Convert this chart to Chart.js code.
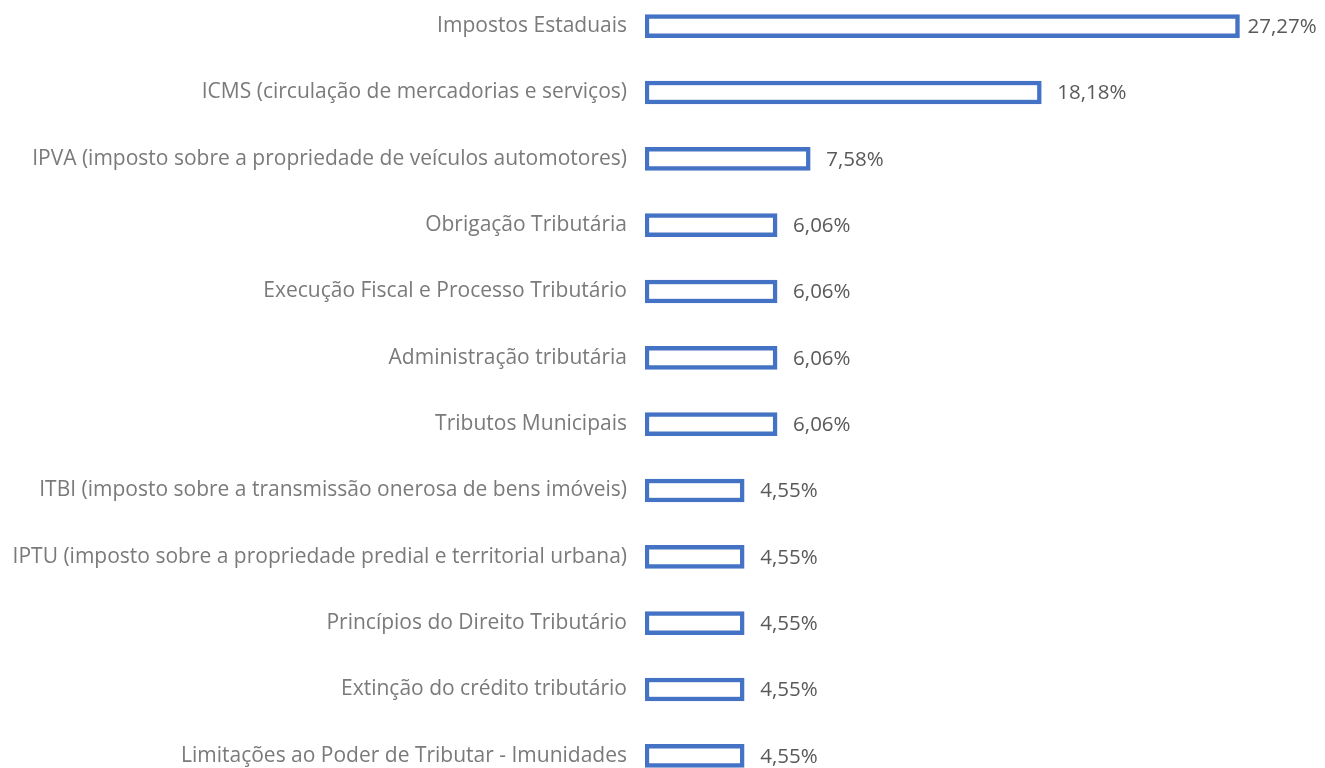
<!DOCTYPE html>
<html>
<head>
<meta charset="utf-8">
<script src="https://cdn.jsdelivr.net/npm/chart.js@4/dist/chart.umd.min.js"></script>
<style>
    html, body { margin: 0; padding: 0; background: #fff; overflow: hidden; }
    #wrap { position: absolute; left: 0; top: -7px; width: 1325px; height: 796px; }
</style>
</head>
<body>
<div id="wrap"><canvas id="chart"></canvas></div>
<script>
// categories, top to bottom
const categories = [
    'Impostos Estaduais',
    'ICMS (circulação de mercadorias e serviços)',
    'IPVA (imposto sobre a propriedade de veículos automotores)',
    'Obrigação Tributária',
    'Execução Fiscal e Processo Tributário',
    'Administração tributária',
    'Tributos Municipais',
    'ITBI (imposto sobre a transmissão onerosa de bens imóveis)',
    'IPTU (imposto sobre a propriedade predial e territorial urbana)',
    'Princípios do Direito Tributário',
    'Extinção do crédito tributário',
    'Limitações ao Poder de Tributar - Imunidades'
];
const percentages = [27.27, 18.18, 7.58, 6.06, 6.06, 6.06, 6.06, 4.55, 4.55, 4.55, 4.55, 4.55];

const FONT = '"Open Sans"';
const FONT_SIZE = 21;

// value labels after each bar
const valueLabels = {
    id: 'valueLabels',
    afterDatasetsDraw(chart) {
        const ctx = chart.ctx;
        const meta = chart.getDatasetMeta(0);
        ctx.save();
        ctx.font = '20.5px ' + FONT;
        ctx.fillStyle = '#595959';
        ctx.textBaseline = 'middle';
        meta.data.forEach((bar, i) => {
            const txt = percentages[i].toFixed(2).replace('.', ',') + '%';
            const w = ctx.measureText(txt).width;
            let x = bar.x + 16;
            if (x + w > chart.width - 4) x = bar.x + 8;
            ctx.fillText(txt, x, bar.y + 1);
        });
        ctx.restore();
    }
};

new Chart(document.getElementById('chart'), {
    type: 'bar',
    data: {
        labels: categories,
        datasets: [{
            data: percentages,
            backgroundColor: '#ffffff',
            borderColor: '#4472C4',
            borderWidth: 4.5,
            borderSkipped: false,
            barThickness: 23
        }]
    },
    options: {
        indexAxis: 'y',
        responsive: true,
        maintainAspectRatio: false,
        animation: false,
        layout: { padding: { top: 0, bottom: 0, left: 0, right: 26 } },
        plugins: {
            legend: { display: false },
            tooltip: { enabled: false }
        },
        scales: {
            x: {
                display: false,
                min: 0,
                max: 30
            },
            y: {
                grid: { display: false, drawTicks: false },
                border: { display: false },
                ticks: {
                    color: '#7a7a7a',
                    font: { family: 'Open Sans', size: FONT_SIZE },
                    padding: 18
                },
                afterFit(scale) {
                    scale.width = 645;
                    // no extra room above/below for the tick labels
                    scale.paddingTop = 0;
                    scale.paddingBottom = 0;
                }
            }
        }
    },
    plugins: [valueLabels]
});
</script>
</body>
</html>
